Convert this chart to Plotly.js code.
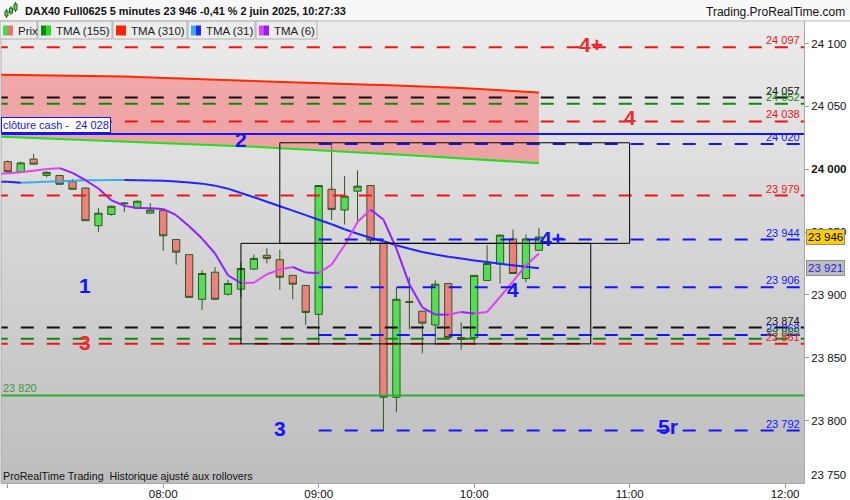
<!DOCTYPE html>
<html><head><meta charset="utf-8">
<script src="https://cdn.plot.ly/plotly-3.0.1.min.js"></script>
<style>html,body{margin:0;padding:0;background:#fff;}#chart{width:850px;height:500px;}</style>
</head><body><div id="chart"></div>
<script>
// ---------- data ----------
const day = '2025-06-02 ';
const candleTimes = ['07:00','07:05','07:10','07:15','07:20','07:25','07:30','07:35','07:40','07:45','07:50','07:55',
 '08:00','08:05','08:10','08:15','08:20','08:25','08:30','08:35','08:40','08:45','08:50','08:55',
 '09:00','09:05','09:10','09:15','09:20','09:25','09:30','09:35','09:40','09:45','09:50','09:55',
 '10:00','10:05','10:10','10:15','10:20','10:25'];
const openP = [24006,23998,24008,23995,23995,23990,23985,23955,23964,23972.5,23969,23965,
 23967,23944,23932,23896.5,23918,23900.5,23904.5,23920.5,23931.5,23928,23915.5,23907.5,
 23884.5,23984,23967.5,23982.5,23987,23941,23818.5,23894,23887,23876,23909,23866,
 23866,23911.5,23924.5,23944.5,23913,23935.5];
const highP = [24007,24006,24012,23998.5,23995,23992,23985,23969,23971,23973.5,23975,23973,
 23967,23944,23932,23919.5,23922,23912,23926,23932,23937,23936,23915.5,23907.5,
 23987,24020,23994.5,23999,23987,23941,23906,23914,23887,23911.5,23909,23878,
 23915.5,23939.5,23948,23952,23948,23953];
const lowP = [23997,23998,24004,23993.5,23988,23984,23959,23950,23963,23966,23969,23965,
 23935,23924,23898,23888,23896,23899.5,23898,23920,23925,23904,23896.5,23876,
 23861,23959.5,23956,23958,23940,23792,23806.5,23872.5,23853.5,23860,23866,23856.5,
 23860,23911.5,23909,23917,23910,23935];
const closeP = [23998,24005,24004,23997.5,23988,23984,23959,23965,23970.5,23973,23974.5,23967.5,
 23947,23934,23898,23917,23896.5,23909,23921,23929,23929,23914,23908.5,23886,
 23987,23968,23978.5,23986.5,23943.5,23818.5,23896.5,23894.5,23877.5,23908.5,23866,23864.5,
 23915.5,23925,23947.5,23917,23944.5,23946];

// moving averages (first value is the bar before the visible window)
const maTimes = ['06:55'].concat(candleTimes);
const tma155 = [24026.0,24025.6,24025.2,24024.9,24024.5,24024.0,24023.6,24023.1,24022.8,24022.5,24022.2,24021.9,24021.5,
 24021.1,24020.6,24020.1,24019.6,24019.1,24018.7,24018.3,24017.8,24017.3,24016.8,24016.3,24015.8,
 24015.2,24014.6,24014.0,24013.4,24012.9,24012.3,24011.7,24011.1,24010.5,24009.9,24009.3,24008.6,
 24007.9,24007.2,24006.6,24006.0,24005.4,24004.8];
const tma310 = [24075.2,24075.1,24075.0,24074.9,24074.8,24074.7,24074.5,24074.3,24074.1,24073.9,24073.7,24073.4,24073.1,
 24072.8,24072.5,24072.1,24071.8,24071.4,24071.0,24070.6,24070.2,24069.8,24069.4,24069.0,24068.6,
 24068.5,24068.1,24067.8,24067.5,24067.2,24066.9,24066.6,24066.3,24066.0,24065.5,24065.0,24064.5,
 24064.0,24063.4,24062.8,24062.2,24061.6,24061.0];
const tma31 = [23990.0,23989.9,23989.2,23989.6,23990.0,23990.4,23990.8,23991.1,23991.2,23991.3,23991.35,23991.2,23991.0,
 23990.7,23990.2,23989.4,23988.5,23986.9,23984.5,23981.1,23977.7,23974.1,23970.5,23967.0,23963.4,
 23959.8,23956.2,23952.2,23948.6,23945.4,23942.7,23939.5,23936.7,23934.1,23932.1,23930.3,23928.9,
 23927.4,23926.1,23924.7,23923.5,23922.4,23921.2];
const tma6 = [23995.8,23996.8,23997.6,23998.8,24000.2,24000.8,23997.1,23991.2,23984.6,23975.3,23970.8,23969.2,23969.0,
 23968.4,23963.4,23954.6,23944.8,23932.9,23915.6,23909.4,23909.6,23916.4,23920.1,23922.2,23917.7,
 23917.4,23924.1,23939.5,23958.0,23967.9,23959.9,23936.8,23908.4,23890.1,23884.3,23884.2,23886.4,
 23885.1,23886.4,23898.3,23910.8,23923.5,23932.9];

// horizontal levels
const levelPrices = [24097,24057,24052,24038,24020,23979,23944,23906,23874,23868,23865,23861,23792];
const levelLabels = ['24 097','24 057','24 052','24 038','24 020','23 979','23 944','23 906','23 874','23 868','23 865','23 861','23 792'];
const levelStart  = ['06:55','06:55','06:55','06:55','09:00','06:55','09:00','09:00','06:55','09:00','06:55','06:55','09:00'];
const cashClose = 24028;
const supportLine = 23820;

// zones
const zoneStart = ['08:45','08:30'];
const zoneEnd   = ['11:00','10:45'];
const zoneLow   = [23941,23861];
const zoneHigh  = [24021,23941];

// big marks
const markText  = ['4+','4','2','1','3','3','5r','4+','4'];
const markTime  = ['10:45','11:00','08:30','07:30','07:30','08:45','11:15','10:30','10:15'];
const markPrice = [24099.6,24041.4,24023.9,23907.6,23862.2,23793.7,23795.3,23945,23904.4];

const yTickVals = [23800,23850,23900,23950,24000,24050,24100];
const yTickText = ['23 800','23 850','23 900','23 950','<b>24 000</b>','24 050','24 100'];
const xTickVals = ['07:00','08:00','09:00','10:00','11:00','12:00'];
const xTickText = ['','08:00','09:00','10:00','11:00','12:00'];

// ---------- styles ----------
const RED = '#f01414', BLUE = '#1414ff', BLACK = '#111111', DGREEN = '#118811';
const levelColors = [RED,BLACK,DGREEN,RED,BLUE,RED,BLUE,BLUE,BLACK,BLUE,DGREEN,RED,BLUE];
const markColors = ['#ee2a2a','#ee2a2a',BLUE,BLUE,'#ee2a2a',BLUE,BLUE,BLUE,BLUE];

const T = s => day + s;
const L = 1, R = 804, TOP = 21, BOT = 483;
const PX = px => (px - L) / (R - L);
const PY = py => (BOT - py) / (BOT - TOP);

function segTraces(xs, ys, upColor, downColor, width) {
  const up = {x:[],y:[]}, dn = {x:[],y:[]};
  for (let i = 1; i < ys.length; i++) {
    const t = ys[i] > ys[i-1] ? up : dn;
    t.x.push(T(xs[i-1]), T(xs[i]), null);
    t.y.push(ys[i-1], ys[i], null);
  }
  return [up, dn].map((d, k) => ({type:'scatter', mode:'lines', x:d.x, y:d.y, connectgaps:false,
    line:{color: k === 0 ? upColor : downColor, width: width}, hoverinfo:'skip'}));
}

const traces = [];
traces.push({type:'scatter', mode:'lines', x:maTimes.map(T), y:tma155, line:{color:'#22dd22', width:2}, hoverinfo:'skip'});
traces.push({type:'scatter', mode:'lines', x:maTimes.map(T), y:tma310, line:{color:'#ff2a00', width:2},
  fill:'tonexty', fillcolor:'rgba(255,90,90,0.45)', hoverinfo:'skip'});
traces.push({type:'candlestick', x:candleTimes.map(T), open:openP, high:highP, low:lowP, close:closeP,
  increasing:{fillcolor:'#55dd55', line:{color:'#2b5a1b', width:1}},
  decreasing:{fillcolor:'#f08080', line:{color:'#2b5a1b', width:1}},
  whiskerwidth:0, hoverinfo:'skip'});
segTraces(maTimes, tma31, '#3aa9ee', '#2222ff', 2).forEach(t => traces.push(t));
segTraces(maTimes, tma6, '#dd44f0', '#9020ff', 2).forEach(t => traces.push(t));

// solid lines
traces.push({type:'scatter', mode:'lines', x:[T('06:55'), T('12:15')], y:[supportLine, supportLine], line:{color:'#33aa33', width:2}, hoverinfo:'skip'});
traces.push({type:'scatter', mode:'lines', x:[T('06:55'), T('12:15')], y:[cashClose, cashClose], line:{color:BLUE, width:2}, hoverinfo:'skip'});
// dashed levels
levelPrices.forEach((p, i) => {
  traces.push({type:'scatter', mode:'lines', x:[T(levelStart[i]), T('12:15')], y:[p, p],
    line:{color:levelColors[i], width:2, dash:'13px,13px'}, hoverinfo:'skip'});
});

const shapes = [];
// header band
shapes.push({type:'rect', xref:'paper', yref:'paper', x0:-0.01, x1:1.1, y0:1, y1:1.1, fillcolor:'#f8f8f8', line:{width:0}, layer:'below'});
shapes.push({type:'line', xref:'paper', yref:'paper', x0:-0.01, x1:1.1, y0:1, y1:1, line:{color:'#b8b8b8', width:1}});
// zones
zoneStart.forEach((s, i) => {
  shapes.push({type:'rect', xref:'x', yref:'y', x0:T(s), x1:T(zoneEnd[i]), y0:zoneLow[i], y1:zoneHigh[i],
    line:{color:'#000', width:1}, fillcolor:'rgba(0,0,0,0)', layer:'above'});
});
// left border
shapes.push({type:'line', xref:'paper', yref:'paper', x0:0, x1:0, y0:0, y1:1, line:{color:'#aaaaaa', width:1}});

const F = 'Arial, Liberation Sans, sans-serif';
// legend boxes
const legendLabels = ['Prix','TMA (155)','TMA (310)','TMA (31)','TMA (6)'];
const legendSw = [['#4fd64f','#ee6f6f'],['#0a8a0a','#22dd22'],['#ff2200','#ff2200'],['#3aa9ee','#2222ff'],['#dd44f0','#8f1fff']];
const legendBox = [[0,37],[38,112],[113,187],[188,255],[256,317]];
const annotations = [];
legendBox.forEach((b, i) => {
  shapes.push({type:'rect', xref:'paper', yref:'paper', x0:PX(b[0]), x1:PX(b[1]), y0:PY(39), y1:PY(21),
    fillcolor:'#ececec', line:{color:'#b0b0b0', width:1}});
  const sx = b[0] + 3;
  shapes.push({type:'rect', xref:'paper', yref:'paper', x0:PX(sx), x1:PX(sx+5), y0:PY(35.5), y1:PY(25.5), fillcolor:legendSw[i][0], line:{width:0}});
  shapes.push({type:'rect', xref:'paper', yref:'paper', x0:PX(sx+5), x1:PX(sx+10), y0:PY(35.5), y1:PY(25.5), fillcolor:legendSw[i][1], line:{width:0}});
  annotations.push({xref:'paper', yref:'paper', x:PX(sx+13), y:PY(30.5), xanchor:'left', yanchor:'middle', showarrow:false,
    text:legendLabels[i], font:{family:F, size:11.5, color:'#222'}});
});
// header icon
[[5,8,11,16,9,18],[9.5,12.5,8,13,6,15],[14,17,4,10,2,12]].forEach(c => {
  shapes.push({type:'line', xref:'paper', yref:'paper', x0:PX((c[0]+c[1])/2), x1:PX((c[0]+c[1])/2), y0:PY(c[5]), y1:PY(c[4]), line:{color:'#2b5a1b', width:1}});
  shapes.push({type:'rect', xref:'paper', yref:'paper', x0:PX(c[0]), x1:PX(c[1]), y0:PY(c[3]), y1:PY(c[2]), fillcolor:'#55dd55', line:{color:'#2b5a1b', width:1}});
});

annotations.push({xref:'paper', yref:'paper', x:PX(23), y:PY(11), xanchor:'left', yanchor:'middle', showarrow:false,
  text:'<b>DAX40 Full0625 5 minutes 23 946 -0,41 % 2 juin 2025, 10:27:33</b>', font:{family:F, size:10.9, color:'#111'}});
annotations.push({xref:'paper', yref:'paper', x:PX(847), y:PY(12), xanchor:'right', yanchor:'middle', showarrow:false,
  text:'Trading.ProRealTime.com', font:{family:F, size:12, color:'#111'}});
annotations.push({xref:'paper', yref:'paper', x:PX(1), y:PY(476), xanchor:'left', yanchor:'middle', showarrow:false,
  text:'ProRealTime Trading\u00a0 Historique ajusté aux rollovers', font:{family:F, size:10.7, color:'#111'}});
annotations.push({xref:'paper', yref:'paper', x:1, y:PY(475), xanchor:'left', yanchor:'middle', xshift:5, showarrow:false,
  text:'23 750', font:{family:F, size:11.5, color:'#111'}});
// level labels
levelPrices.forEach((p, i) => {
  annotations.push({xref:'paper', yref:'y', x:PX(801), y:p, xanchor:'right', yanchor:'bottom', showarrow:false, borderpad:0,
    text:levelLabels[i], font:{family:F, size:11, color:levelColors[i]}});
});
annotations.push({xref:'paper', yref:'y', x:PX(2), y:supportLine, xanchor:'left', yanchor:'bottom', showarrow:false, borderpad:0,
  text:'23 820', font:{family:F, size:11, color:'#3a9a3a'}});
annotations.push({xref:'paper', yref:'y', x:0, y:cashClose, xanchor:'left', yanchor:'bottom', showarrow:false,
  text:'clôture cash -\u00a0 24 028', font:{family:F, size:11, color:BLUE}, bgcolor:'#ffffff', bordercolor:BLUE, borderwidth:1, borderpad:1, yshift:1});
// big marks
markText.forEach((t, i) => {
  annotations.push({xref:'x', yref:'y', x:T(markTime[i]), y:markPrice[i], showarrow:false, xanchor:'center', yanchor:'middle',
    text:'<b>'+t+'</b>', font:{family:F, size:21, color:markColors[i]}});
});
// price badges
annotations.push({xref:'paper', yref:'y', x:1, y:closeP[closeP.length-1], xanchor:'left', yanchor:'middle', xshift:2, showarrow:false,
  text:'23 946', font:{family:F, size:11.5, color:'#000'}, bgcolor:'#ffcc00', bordercolor:'#8c8c8c', borderwidth:1, borderpad:1});
annotations.push({xref:'paper', yref:'y', x:1, y:tma31[tma31.length-1], xanchor:'left', yanchor:'middle', xshift:2, showarrow:false,
  text:'23 921', font:{family:F, size:11.5, color:'#2222ee'}, bgcolor:'#bdbdbd', bordercolor:'#8c8c8c', borderwidth:1, borderpad:1});

const bg = "data:image/svg+xml;utf8," + encodeURIComponent(
  "<svg xmlns='http://www.w3.org/2000/svg' width='10' height='100' viewBox='0 0 10 100' preserveAspectRatio='none'>" +
  "<defs><linearGradient id='g' x1='0' y1='0' x2='0' y2='1'><stop offset='0' stop-color='#ececec'/><stop offset='1' stop-color='#bdbdbd'/></linearGradient></defs>" +
  "<rect width='10' height='100' fill='url(#g)'/></svg>");

const layout = {
  width:850, height:500,
  margin:{l:L, r:850-R, t:TOP, b:500-BOT, pad:0},
  paper_bgcolor:'#ffffff', plot_bgcolor:'#d6d6d6',
  showlegend:false, dragmode:false, hovermode:false,
  boxgap:0.2,
  font:{family:F, size:11.5, color:'#111'},
  images:[{source:bg, xref:'paper', yref:'paper', x:0, y:1, sizex:1, sizey:1, sizing:'stretch', xanchor:'left', yanchor:'top', layer:'below'}],
  xaxis:{type:'date', range:[T('06:57:24'), T('12:07:18')], tickvals:xTickVals.map(T), ticktext:xTickText,
    ticks:'outside', ticklen:4, tickcolor:'#999', showline:true, linecolor:'#aaaaaa', linewidth:1,
    ticklabelstandoff:-4,
    showgrid:false, zeroline:false, rangeslider:{visible:false}, fixedrange:true,
    tickfont:{family:F, size:11.5, color:'#111'}},
  yaxis:{side:'right', range:[23750.3, 24117.9], tickvals:yTickVals, ticktext:yTickText,
    ticks:'outside', ticklen:4, tickcolor:'#999', showline:true, linecolor:'#aaaaaa', linewidth:1,
    showgrid:false, zeroline:false, fixedrange:true, tickfont:{family:F, size:11.5, color:'#111'}},
  shapes:shapes, annotations:annotations
};
Plotly.newPlot('chart', traces, layout, {staticPlot:true, displayModeBar:false});
</script></body></html>
